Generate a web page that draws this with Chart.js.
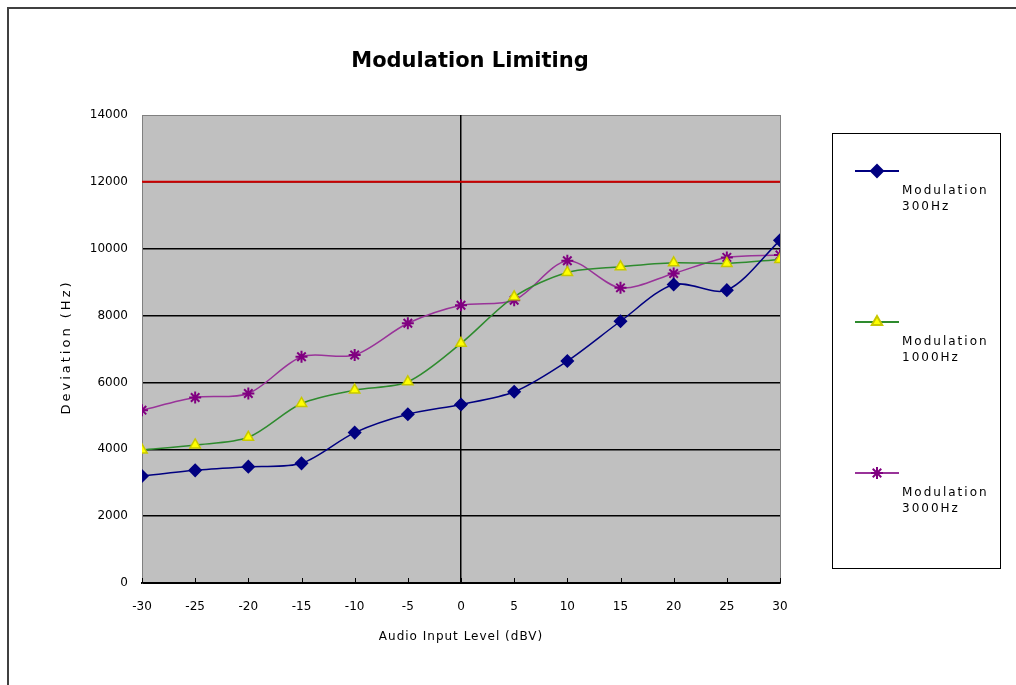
<!DOCTYPE html>
<html>
<head>
<meta charset="utf-8">
<script src="https://cdn.jsdelivr.net/npm/chart.js@4.4.1/dist/chart.umd.min.js"></script>
<style>
  html, body { margin: 0; padding: 0; background: #fff; }
  #wrap { width: 1016px; height: 685px; }
</style>
</head>
<body>
<div id="wrap"><canvas id="modChart"></canvas></div>
<script>
const chartTitle = 'Modulation Limiting';
const xTitle = 'Audio Input Level (dBV)';
const yTitle = 'Deviation (Hz)';
const xLevels = [-30, -25, -20, -15, -10, -5, 0, 5, 10, 15, 20, 25, 30];
const dev300 = [3200, 3370, 3480, 3580, 4500, 5050, 5340, 5720, 6640, 7830, 8930, 8760, 10250];
const dev1000 = [3980, 4130, 4360, 5370, 5770, 6020, 7170, 8560, 9290, 9460, 9580, 9560, 9680];
const dev3000 = [5170, 5550, 5670, 6770, 6820, 7770, 8310, 8460, 9640, 8830, 9260, 9740, 9810];
const limitLine = [12000, 12000, 12000, 12000, 12000, 12000, 12000, 12000, 12000, 12000, 12000, 12000, 12000];
const seriesNames = [['Modulation', '300Hz'], ['Modulation', '1000Hz'], ['Modulation', '3000Hz']];

function toPoints(vals) {
    return xLevels.map((x, i) => ({ x: x, y: vals[i] }));
}

// grey plot area, outer frame, titles and the boxed legend
const decor = {
    id: 'decor',
    beforeDraw(chart) {
        const { ctx, chartArea: a } = chart;
        ctx.save();
        ctx.fillStyle = '#c0c0c0';
        ctx.fillRect(a.left, a.top, a.right - a.left, a.bottom - a.top);
        ctx.strokeStyle = '#808080';
        ctx.lineWidth = 1;
        ctx.strokeRect(a.left + 0.5, a.top + 0.5, a.right - a.left, a.bottom - a.top);
        // outer frame (only top and left show)
        ctx.strokeStyle = '#404040';
        ctx.lineWidth = 2;
        ctx.beginPath();
        ctx.moveTo(8, 685);
        ctx.lineTo(8, 8);
        ctx.lineTo(1016, 8);
        ctx.stroke();
        // chart title
        ctx.fillStyle = '#000';
        ctx.font = 'bold 21px "DejaVu Sans", sans-serif';
        ctx.textAlign = 'center';
        ctx.textBaseline = 'middle';
        ctx.fillText(chartTitle, 470, 62);
        // axis titles
        ctx.font = '12px "DejaVu Sans", sans-serif';
        ctx.letterSpacing = '1px';
        ctx.fillText(xTitle, (a.left + a.right) / 2, 637);
        ctx.translate(67, (a.top + a.bottom) / 2);
        ctx.rotate(-Math.PI / 2);
        ctx.font = '13px "DejaVu Sans", sans-serif';
        ctx.letterSpacing = '3px';
        ctx.fillText(yTitle, 2, 0);
        ctx.restore();
    },
    afterDraw(chart) {
        const ctx = chart.ctx;
        const a = chart.chartArea;
        const xs = chart.scales.x;
        ctx.save();
        // small inward tick marks on the category axis
        ctx.strokeStyle = '#000';
        ctx.lineWidth = 1;
        xLevels.forEach((v) => {
            const px = Math.round(xs.getPixelForValue(v)) + 0.5;
            ctx.beginPath();
            ctx.moveTo(px, a.bottom);
            ctx.lineTo(px, a.bottom - 5);
            ctx.stroke();
        });
        ctx.strokeRect(832.5, 133.5, 168, 435);
        const rows = [171, 322, 473];
        chart.data.datasets.slice(0, 3).forEach((ds, i) => {
            const y = rows[i];
            ctx.strokeStyle = ds.borderColor;
            ctx.lineWidth = 2;
            ctx.beginPath();
            ctx.moveTo(855, y);
            ctx.lineTo(899, y);
            ctx.stroke();
            ctx.fillStyle = ds.pointBackgroundColor;
            ctx.strokeStyle = ds.pointBorderColor;
            Chart.helpers.drawPoint(ctx, {
                pointStyle: ds.pointStyle,
                radius: ds.pointRadius,
                borderWidth: ds.pointBorderWidth || 1
            }, 877, y);
            ctx.fillStyle = '#000';
            ctx.font = '12px "DejaVu Sans", sans-serif';
            ctx.letterSpacing = '2px';
            ctx.textAlign = 'left';
            ctx.textBaseline = 'middle';
            ctx.fillText(seriesNames[i][0], 902, y + 20);
            ctx.fillText(seriesNames[i][1], 902, y + 36);
            ctx.letterSpacing = '0px';
        });
        ctx.restore();
    }
};

const ctx = document.getElementById('modChart').getContext('2d');
new Chart(ctx, {
    type: 'line',
    data: {
        datasets: [{
            label: seriesNames[0].join(' '),
            data: toPoints(dev300),
            borderColor: '#000080',
            backgroundColor: '#000080',
            pointBackgroundColor: '#000080',
            pointBorderColor: '#000080',
            pointStyle: 'rectRot',
            pointRadius: 6,
            borderWidth: 1.5,
            tension: 0.3
        }, {
            label: seriesNames[1].join(' '),
            data: toPoints(dev1000),
            borderColor: '#2e8b2e',
            backgroundColor: '#ffff00',
            pointBackgroundColor: '#ffff00',
            pointBorderColor: '#c8c800',
            pointStyle: 'triangle',
            pointRadius: 6,
            borderWidth: 1.5,
            tension: 0.3
        }, {
            label: seriesNames[2].join(' '),
            data: toPoints(dev3000),
            borderColor: '#993399',
            backgroundColor: '#800080',
            pointBackgroundColor: '#800080',
            pointBorderColor: '#800080',
            pointStyle: 'star',
            pointRadius: 6,
            pointBorderWidth: 2,
            borderWidth: 1.5,
            tension: 0.3
        }, {
            label: 'limit',
            data: toPoints(limitLine),
            borderColor: '#cc0000',
            borderWidth: 2,
            pointRadius: 0,
            tension: 0
        }]
    },
    options: {
        responsive: true,
        maintainAspectRatio: false,
        animation: false,
        layout: { padding: { left: 55, right: 236, top: 115, bottom: 0 } },
        plugins: {
            legend: { display: false },
            title: { display: false },
            tooltip: { enabled: false }
        },
        scales: {
            x: {
                type: 'linear',
                min: -30,
                max: 30,
                afterFit: (scale) => { scale.height = 102; },
                ticks: {
                    stepSize: 5,
                    padding: 17,
                    color: '#000',
                    font: { family: 'DejaVu Sans', size: 12 }
                },
                grid: {
                    drawTicks: false,
                    color: (c) => c.tick && c.tick.value === 0 ? '#000' : 'rgba(0,0,0,0)',
                    lineWidth: 1.5
                },
                border: { color: '#000', width: 2 }
            },
            y: {
                min: 0,
                max: 14000,
                afterFit: (scale) => { scale.width = 87; },
                ticks: {
                    stepSize: 2000,
                    padding: 14,
                    color: '#000',
                    font: { family: 'DejaVu Sans', size: 12 },
                    callback: (v) => String(v)
                },
                grid: {
                    drawTicks: false,
                    color: (c) => c.tick && (c.tick.value === 0 || c.tick.value === 14000) ? 'rgba(0,0,0,0)' : '#000',
                    lineWidth: 1.5
                },
                border: { color: '#808080', width: 1 }
            }
        }
    },
    plugins: [decor]
});
</script>
</body>
</html>
